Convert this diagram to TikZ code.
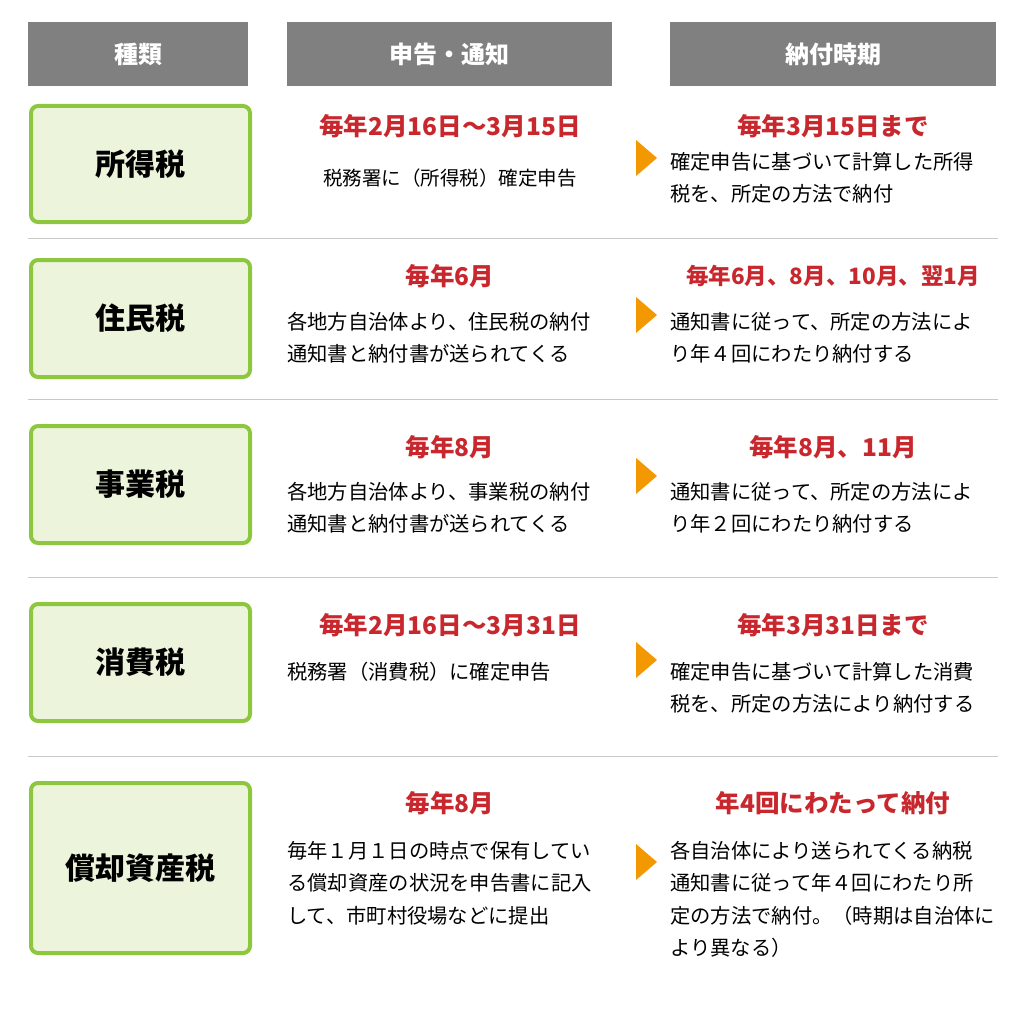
\documentclass[tikz,border=0pt]{standalone}
\usepackage{fontspec}
\newfontfamily\jp{Noto Sans CJK JP}
\usetikzlibrary{positioning}
\definecolor{headgray}{RGB}{128,128,128}
\definecolor{leafgreen}{RGB}{141,198,63}
\definecolor{paleleaf}{RGB}{236,245,220}
\definecolor{datered}{RGB}{200,40,45}
\definecolor{pointorange}{RGB}{243,152,0}
\definecolor{linegray}{RGB}{200,200,200}
\tikzset{
  headbox/.style={fill=headgray, text=white, font=\jp\bfseries\fontsize{24}{26}\selectfont, anchor=north west, inner sep=0pt},
  taxbox/.style={draw=leafgreen, line width=4pt, fill=paleleaf, rounded corners=7pt, font=\jp\bfseries\fontsize{30}{32}\selectfont, inner sep=0pt},
  datetitle/.style={text=datered, font=\jp\bfseries\fontsize{24.5}{28}\selectfont},
  bodytext/.style={font=\jp\fontsize{20.3}{32.5}\selectfont, anchor=north west, align=left, inner sep=0pt},
  pointer/.style={fill=pointorange}
}
\begin{document}
\begin{tikzpicture}[x=1pt,y=-1pt]
\useasboundingbox (0,0) rectangle (1024,1014);
% header
\node[headbox, minimum width=220pt, minimum height=64pt] (hkind) at (28,22) {種類};
\node[headbox, minimum width=325pt, minimum height=64pt] (hfile) at (287,22) {申告・通知};
\node[headbox, minimum width=326pt, minimum height=64pt] (hpay) at (670,22) {納付時期};
% separators
\foreach \yy in {238,399,577,756}
  \draw[linegray, line width=1pt] (28,\yy) -- (998,\yy);
% tax names
\node[taxbox, minimum width=219pt, minimum height=116pt, anchor=north west] (income) at (29,104) {所得税};
\node[taxbox, minimum width=219pt, minimum height=117pt, anchor=north west] (resident) at (29,258) {住民税};
\node[taxbox, minimum width=219pt, minimum height=117pt, anchor=north west] (business) at (29,424) {事業税};
\node[taxbox, minimum width=219pt, minimum height=117pt, anchor=north west] (consume) at (29,602) {消費税};
\node[taxbox, minimum width=219pt, minimum height=170pt, anchor=north west] (asset) at (29,781) {償却資産税};
% row 1
\node[datetitle] (fileA) at (450,126) {毎年2月16日～3月15日};
\node[font=\jp\fontsize{19.5}{24}\selectfont] (fileAtxt) at (450,178) {税務署に（所得税）確定申告};
\node[datetitle] (payA) at (833,126) {毎年3月15日まで};
\node[bodytext] (payAtxt) at (670,152) {確定申告に基づいて計算した所得\\税を、所定の方法で納付};
% row 2
\node[datetitle] (fileB) at (450,276) {毎年6月};
\node[bodytext] (fileBtxt) at (287,312) {各地方自治体より、住民税の納付\\通知書と納付書が送られてくる};
\node[datetitle, font=\jp\bfseries\fontsize{22.5}{28}\selectfont] (payB) at (833,276) {毎年6月、8月、10月、翌1月};
\node[bodytext] (payBtxt) at (670,312) {通知書に従って、所定の方法によ\\り年４回にわたり納付する};
% row 3
\node[datetitle] (fileC) at (450,447) {毎年8月};
\node[bodytext] (fileCtxt) at (287,482) {各地方自治体より、事業税の納付\\通知書と納付書が送られてくる};
\node[datetitle] (payC) at (833,447) {毎年8月、11月};
\node[bodytext] (payCtxt) at (670,482) {通知書に従って、所定の方法によ\\り年２回にわたり納付する};
% row 4
\node[datetitle] (fileD) at (450,625) {毎年2月16日～3月31日};
\node[bodytext] (fileDtxt) at (287,662) {税務署（消費税）に確定申告};
\node[datetitle] (payD) at (833,625) {毎年3月31日まで};
\node[bodytext] (payDtxt) at (670,662) {確定申告に基づいて計算した消費\\税を、所定の方法により納付する};
% row 5
\node[datetitle] (fileE) at (450,803) {毎年8月};
\node[bodytext] (fileEtxt) at (287,841) {毎年１月１日の時点で保有してい\\る償却資産の状況を申告書に記入\\して、市町村役場などに提出};
\node[datetitle] (payE) at (833,803) {年4回にわたって納付};
\node[bodytext] (payEtxt) at (670,841) {各自治体により送られてくる納税\\通知書に従って年４回にわたり所\\定の方法で納付。（時期は自治体に\\より異なる）};
% pointers
\foreach \yy in {158,315,476,660,862}
  \fill[pointer] (636,\yy-18) -- (657,\yy) -- (636,\yy+18) -- cycle;
\end{tikzpicture}
\end{document}
